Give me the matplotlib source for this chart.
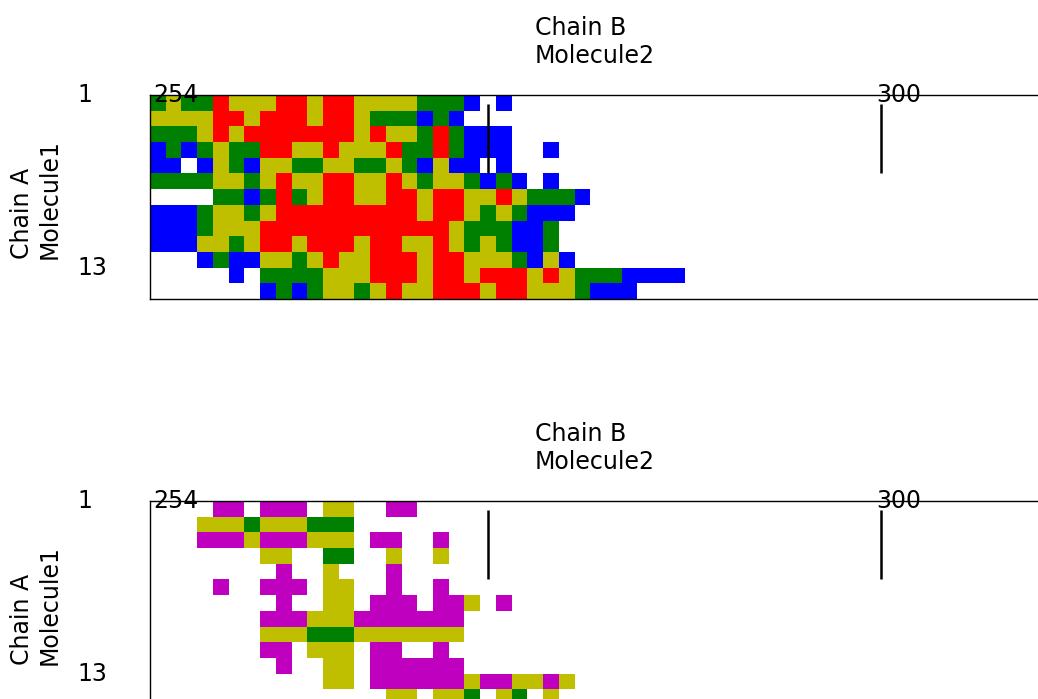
import numpy as np
import matplotlib
matplotlib.use("Agg")
from matplotlib import pyplot as plt
from matplotlib.colors import ListedColormap

# residue numbering of chain B (columns) and chain A (rows)
first_residue = 254
last_residue = 310.1
n_rows = 13
col_marks = [254, 300]
line_marks = [275, 300]
row_marks = ["1", "13"]

# one letter per residue: G green, Y yellow, R red, B blue, M magenta, W empty
top_rows = [
    "GYGGRYYYRRYRRYYYYGGGBWB",
    "YYYYRRYRRRYRRYGGGBGB",
    "GGGYRYRRRRRRRYRYYGRGBBB",
    "BGBGYGGRRYYRYYYRGGRGBBBWWB",
    "BBWBYGBYYGGYYGGYGBYBBWB",
    "GGGGYYGYRYYRRYYRYGYYGBGBWB",
    "WWWWGGBGRGYRRYYRRYRRYYRYGGGB",
    "BBBGYYGYRRRRRRRRRYRRYGYGBBB",
    "BBBGYYYRRRRRRRRRRRRYGGGBBG",
    "BBBYYGYRRYRRRYRRYYRYGYGBBG",
    "WWWBGBBYYGYRYYRRRYRRYYYGBYB",
    "WWWWWBWGGGGYYYRRRYRRYRRRYRYGGGBBBB",
    "WWWWWWWBGBGYYGYRYYRRRYRRYYYGBBB",
]

bottom_rows = [
    "WWWWMMWMMMWYYWWMM",
    "WWWYYYGYYYGGG",
    "WWWMMMYMMMYYYWMMWWM",
    "WWWWWWWYYWWGGWWYWWY",
    "WWWWWWWWMWWYWWWM",
    "WWWWMWWMMMWYYWWMWWM",
    "WWWWWWWWMWWYYWMMMWMMYWM",
    "WWWWWWWMMMYYYMMMMMMM",
    "WWWWWWWYYYGGGYYYYYYY",
    "WWWWWWWMMWYYYWMMWWM",
    "WWWWWWWWMWWYYWMMMMMM",
    "WWWWWWWWWWWYYWMMMMMMYMMYYMY",
    "WWWWWWWWWWWWWWWYYWYYGWYGWY",
]

letters = "GYRBM"
cmap = ListedColormap(["g", "y", "r", "b", "m"])


def to_grid(rows):
    ncol = max(len(r) for r in rows)
    grid = np.full((len(rows), ncol), np.nan)
    for i, row in enumerate(rows):
        for j, ch in enumerate(row):
            if ch in letters:
                grid[i, j] = letters.index(ch)
    return np.ma.masked_invalid(grid)


def draw_panel(ax, rows):
    grid = to_grid(rows)
    x_edges = first_residue - 0.5 + np.arange(grid.shape[1] + 1)
    y_edges = np.arange(grid.shape[0] + 1)
    ax.pcolormesh(x_edges, y_edges, grid, cmap=cmap, vmin=-0.5, vmax=4.5)
    ax.set_xlim(first_residue - 0.5, last_residue)
    ax.set_ylim(n_rows, 0)
    ax.set_xticks([])
    ax.set_yticks([])
    for s in ax.spines.values():
        s.set_linewidth(1.0)

    ax.vlines(line_marks, 0.6, 5.0, colors="k", linewidth=1.8, zorder=3)
    for res in col_marks:
        ax.text(res - 0.3, 0, str(res), ha="left", va="center", fontsize=17)
    ax.text(-0.081, 0, row_marks[0], transform=ax.get_yaxis_transform(),
            ha="left", va="center", fontsize=17)
    ax.text(-0.081, 11, row_marks[1], transform=ax.get_yaxis_transform(),
            ha="left", va="center", fontsize=17)

    ax.text(0.5, 1.132, "Chain B\nMolecule2", transform=ax.transAxes,
            ha="center", va="bottom", ma="left", fontsize=17)
    ax.text(-0.128, 0.49, "Chain A\nMolecule1", transform=ax.transAxes,
            ha="center", va="center", ma="left", rotation=90, fontsize=17)


fig = plt.figure(figsize=(10.38, 6.99), dpi=100)
ax1 = fig.add_axes([150 / 1038, 400 / 699, 890 / 1038, 204 / 699])
ax2 = fig.add_axes([150 / 1038, -6 / 699, 890 / 1038, 204 / 699])

draw_panel(ax1, top_rows)
draw_panel(ax2, bottom_rows)

plt.savefig("out.png", dpi=100)
